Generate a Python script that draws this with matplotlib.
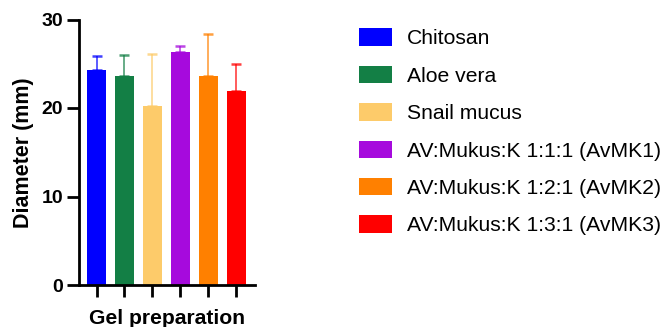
import matplotlib
matplotlib.use("Agg")
import matplotlib.pyplot as plt
from matplotlib.patches import Patch

plt.rcParams['font.family'] = ['Liberation Sans', 'DejaVu Sans']

# data
groups = ['Chitosan', 'Aloe vera', 'Snail mucus',
          'AV:Mukus:K 1:1:1 (AvMK1)', 'AV:Mukus:K 1:2:1 (AvMK2)',
          'AV:Mukus:K 1:3:1 (AvMK3)']
means = [24.3, 23.6, 20.2, 26.3, 23.6, 21.9]
sd = [1.55, 2.35, 5.95, 0.65, 4.8, 3.1]
colors = ['#0000FF', '#137F45', '#FDCB6A', '#A60ADD', '#FF8000', '#FF0000']
yticks = [0, 10, 20, 30]

fig = plt.figure(figsize=(6.67, 3.27), dpi=100)
ax = fig.add_axes([79 / 667, 42 / 327, 176 / 667, 265.5 / 327])

x = list(range(len(groups)))
ax.bar(x, means, width=0.68, color=colors, zorder=2)
for xi, m, s, c in zip(x, means, sd, colors):
    ax.errorbar(xi, m, yerr=[[0], [s]], color=c, capsize=3.6, elinewidth=1.2,
                capthick=1.8, zorder=1, alpha=0.75)

ax.set_xlim(-0.63, 5.68)
ax.set_ylim(0, 30)
ax.set_yticks(yticks)
ax.set_xticks(x)
ax.set_xticklabels([])
for s in ['top', 'right']:
    ax.spines[s].set_visible(False)
for s in ['left', 'bottom']:
    ax.spines[s].set_linewidth(2)
ax.tick_params(axis='both', width=2, length=8.5, labelsize=14, pad=3)
for lab in ax.get_yticklabels():
    lab.set_fontweight('bold')
ax.set_ylabel('Diameter (mm)', fontsize=15.5, fontweight='bold', labelpad=5)
ax.set_xlabel('Gel preparation', fontsize=15.2, fontweight='bold', labelpad=6)

handles = [Patch(facecolor=c, edgecolor='none') for c in colors]
fig.legend(handles, groups, loc='upper left', bbox_to_anchor=(351 / 667, 1 - 20 / 327),
           frameon=False, fontsize=15.2, handlelength=1.52, handleheight=0.9,
           labelspacing=0.82, handletextpad=0.74, borderaxespad=0)

fig.savefig('out.png', dpi=100)
